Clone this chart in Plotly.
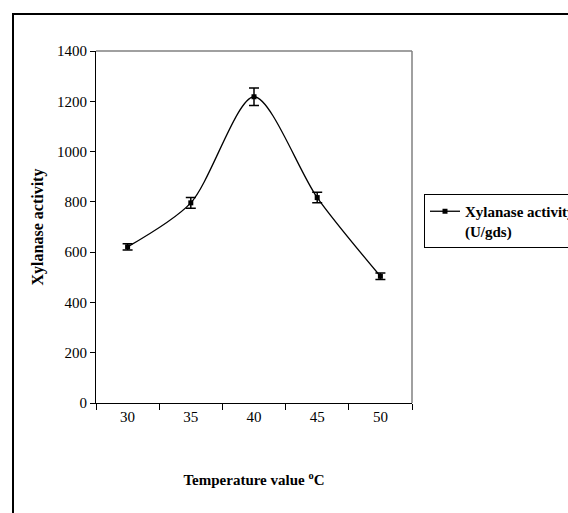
import plotly.graph_objects as go

temperatures = ["30", "35", "40", "45", "50"]
activity = [621, 796, 1218, 817, 504]
activity_err = [12, 21, 35, 21, 13]
y_ticks = [0, 200, 400, 600, 800, 1000, 1200, 1400]

L, R, T, B = 96, 412, 51, 403
W, H = 568, 513
pw, ph = R - L, B - T

def px(x):
    return (x - L) / pw

def py(y):
    return (B - y) / ph

fig = go.Figure()
fig.add_trace(go.Scatter(
    x=temperatures, y=activity,
    mode="lines+markers",
    line=dict(color="black", width=1.3, shape="spline", smoothing=0.8),
    marker=dict(symbol="square", size=5, color="black"),
    error_y=dict(type="data", array=activity_err, visible=True,
                 color="black", thickness=1.5, width=5),
    name="Xylanase activity<br>(U/gds)",
    showlegend=True,
))

font_serif = "Liberation Serif"

fig.update_layout(
    width=W, height=H,
    margin=dict(l=L, r=W - R, t=T, b=H - B, autoexpand=False),
    paper_bgcolor="white", plot_bgcolor="white",
    font=dict(family=font_serif, color="black", size=14),
    showlegend=True,
    legend=dict(
        x=px(424), y=py(194), xanchor="left", yanchor="top",
        bordercolor="black", borderwidth=1, bgcolor="white",
        font=dict(family=font_serif, size=15, color="black", weight="bold"),
        valign="top", itemwidth=30,
    ),
    xaxis=dict(
        type="category", range=[-0.5, 4.5],
        showline=True, linecolor="black", linewidth=1,
        ticks="outside", ticklen=6, tickcolor="black", tickson="boundaries",
        showgrid=False, zeroline=False,
        tickfont=dict(family=font_serif, size=15),
        title=dict(text="Temperature value <sup>o</sup>C",
                   font=dict(family=font_serif, size=15, weight="bold"),
                   standoff=50),
    ),
    yaxis=dict(
        range=[0, 1400], tickvals=y_ticks,
        showline=True, linecolor="black", linewidth=1,
        ticks="outside", ticklen=5, tickcolor="black",
        showgrid=False, zeroline=False,
        tickfont=dict(family=font_serif, size=15),
        title=dict(text="Xylanase activity",
                   font=dict(family=font_serif, size=16, weight="bold"),
                   standoff=9),
    ),
    shapes=[
        dict(type="line", xref="paper", yref="paper", x0=0, x1=1, y0=1, y1=1,
             line=dict(color="#808080", width=1.5)),
        dict(type="line", xref="paper", yref="paper", x0=1, x1=1, y0=0, y1=1,
             line=dict(color="#808080", width=1.5)),
        dict(type="rect", xref="paper", yref="paper",
             x0=px(13), x1=px(620), y0=py(560), y1=py(14),
             line=dict(color="black", width=2), fillcolor="rgba(0,0,0,0)"),
    ],
)

fig.write_html("out.html", config={"displayModeBar": False},
               post_script="document.body.style.margin='0';")
